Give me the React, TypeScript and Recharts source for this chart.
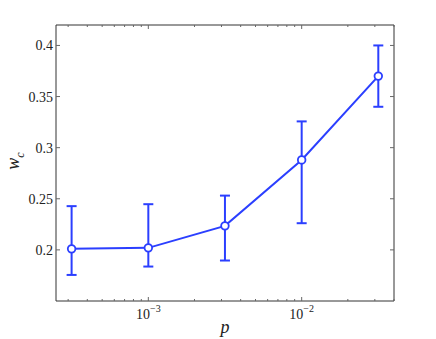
import React from "react";
import { LineChart, Line, XAxis, YAxis, ErrorBar } from "recharts";

// measurement points (log-spaced p) and critical width with error range
const pValues = [3.16e-4, 1e-3, 3.16e-3, 1e-2, 3.16e-2];
const wcValues = [0.201, 0.202, 0.2235, 0.288, 0.37];
const wcLower = [0.1755, 0.1837, 0.1896, 0.2261, 0.34];
const wcUpper = [0.2428, 0.2447, 0.2531, 0.3257, 0.4];

const xTicks = [
  3e-4, 4e-4, 5e-4, 6e-4, 7e-4, 8e-4, 9e-4,
  1e-3, 2e-3, 3e-3, 4e-3, 5e-3, 6e-3, 7e-3, 8e-3, 9e-3,
  1e-2, 2e-2, 3e-2, 4e-2,
];
const yTicks = [0.2, 0.25, 0.3, 0.35, 0.4];
const yTickLabels = ["0.2", "0.25", "0.3", "0.35", "0.4"];

const data = pValues.map((p, i) => ({
  p,
  wc: wcValues[i],
  err: [wcValues[i] - wcLower[i], wcUpper[i] - wcValues[i]],
}));

const BLUE = "#2b3fff";
const FRAME = "#333";
const TICK = "#666";
const FONT = "Liberation Serif, DejaVu Serif, serif";

const isDecade = (v: number) => {
  const l = Math.log10(v);
  return Math.abs(l - Math.round(l)) < 1e-6;
};

const XTick = (props: any) => {
  const { x, y, payload, top } = props;
  const v = payload.value;
  const major = isDecade(v);
  const len = major ? 4 : 2;
  const dir = top ? 1 : -1;
  return (
    <g>
      <line x1={x} y1={y} x2={x} y2={y + dir * len} stroke={TICK} />
      {!top && major && (
        <text x={x} y={y + 18} textAnchor="middle" fontFamily={FONT} fontSize={14} fill="#222">
          10
          <tspan dy={-7} fontSize={10}>
            {"\u2212" + Math.abs(Math.round(Math.log10(v)))}
          </tspan>
        </text>
      )}
    </g>
  );
};

const YTick = (props: any) => {
  const { x, y, payload, right } = props;
  const dir = right ? -1 : 1;
  const idx = yTicks.indexOf(payload.value);
  return (
    <g>
      <line x1={x} y1={y} x2={x + dir * 4} y2={y} stroke={TICK} />
      {!right && (
        <text x={x - 3} y={y + 5} textAnchor="end" fontFamily={FONT} fontSize={14} fill="#222">
          {yTickLabels[idx]}
        </text>
      )}
    </g>
  );
};

export default function App() {
  return (
    <div style={{ position: "absolute", left: 0, top: 0, width: 436, height: 339, background: "#fff" }}>
      <LineChart width={436} height={339} data={data} margin={{ top: 24, right: 41, bottom: 37, left: 55 }}>
        <XAxis
          xAxisId="bottom"
          dataKey="p"
          type="number"
          scale="log"
          domain={[2.5e-4, 0.04]}
          allowDataOverflow
          ticks={xTicks}
          interval={0}
          height={1}
          tickSize={0}
          tickMargin={0}
          tickLine={false}
          axisLine={{ stroke: FRAME }}
          tick={(p: any) => <XTick {...p} />}
        />
        <XAxis
          xAxisId="top"
          orientation="top"
          dataKey="p"
          type="number"
          scale="log"
          domain={[2.5e-4, 0.04]}
          allowDataOverflow
          ticks={xTicks}
          interval={0}
          height={1}
          tickSize={0}
          tickMargin={0}
          tickLine={false}
          axisLine={{ stroke: FRAME }}
          tick={(p: any) => <XTick {...p} top />}
        />
        <YAxis
          yAxisId="left"
          type="number"
          domain={[0.15, 0.42]}
          allowDataOverflow
          ticks={yTicks}
          interval={0}
          width={1}
          tickSize={0}
          tickMargin={0}
          tickLine={false}
          axisLine={{ stroke: FRAME }}
          tick={(p: any) => <YTick {...p} />}
        />
        <YAxis
          yAxisId="right"
          orientation="right"
          type="number"
          domain={[0.15, 0.42]}
          allowDataOverflow
          ticks={yTicks}
          interval={0}
          width={1}
          tickSize={0}
          tickMargin={0}
          tickLine={false}
          axisLine={{ stroke: FRAME }}
          tick={(p: any) => <YTick {...p} right />}
        />
        <Line
          xAxisId="bottom"
          yAxisId="left"
          dataKey="wc"
          stroke={BLUE}
          strokeWidth={2}
          dot={{ r: 3.8, fill: "#fff", stroke: BLUE, strokeWidth: 1.8 }}
          activeDot={false}
          isAnimationActive={false}
        >
          <ErrorBar dataKey="err" direction="y" width={5} stroke={BLUE} strokeWidth={2} isAnimationActive={false} />
        </Line>
      </LineChart>
      <svg width={436} height={339} style={{ position: "absolute", left: 0, top: 0, pointerEvents: "none" }}>
        <text x={225} y={333} textAnchor="middle" fontFamily={FONT} fontStyle="italic" fontSize={18} fill="#222">
          p
        </text>
        <text
          transform="translate(18.5,161) rotate(-90)"
          textAnchor="middle"
          fontFamily={FONT}
          fontStyle="italic"
          fontSize={18}
          fill="#222"
        >
          w<tspan fontSize={12} dy={5}>c</tspan>
        </text>
      </svg>
    </div>
  );
}
